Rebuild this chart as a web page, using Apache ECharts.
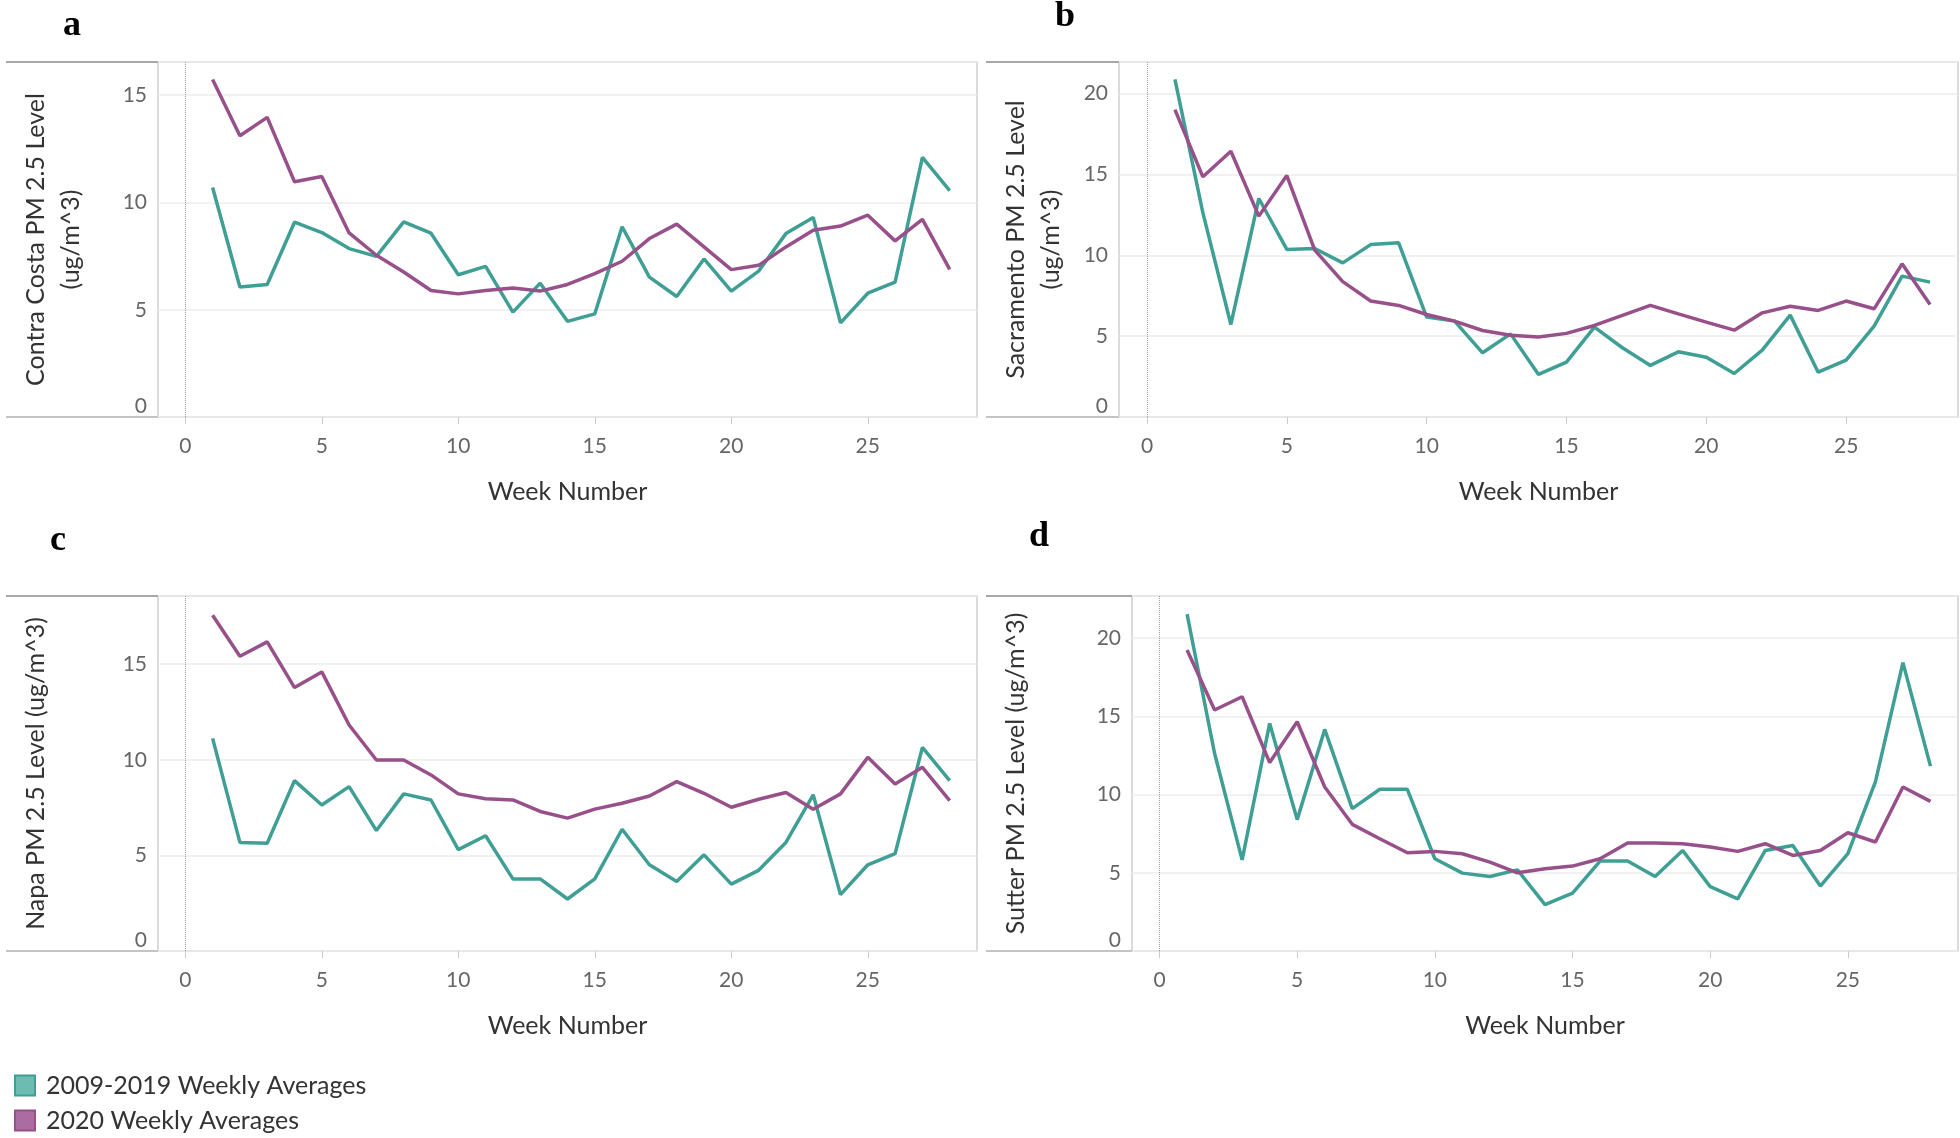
<!DOCTYPE html>
<html>
<head>
<meta charset="utf-8">
<script src="https://cdn.jsdelivr.net/npm/echarts@6/dist/echarts.min.js"></script>
<style>
html,body{margin:0;padding:0;background:#fff;}
#chart{width:1960px;height:1138px;}
</style>
</head>
<body>
<div id="chart"></div>
<script>
const weeks = [1,2,3,4,5,6,7,8,9,10,11,12,13,14,15,16,17,18,19,20,21,22,23,24,25,26,27,28];
const xTickValues = [0,5,10,15,20,25];
const seriesNames = ['2009-2019 Weekly Averages', '2020 Weekly Averages'];

const contraCostaAvg = [10.7,6.06,6.18,9.08,8.6,7.85,7.49,9.1,8.57,6.63,7.02,4.89,6.24,4.46,4.81,8.87,6.52,5.62,7.37,5.87,6.8,8.55,9.3,4.39,5.77,6.29,12.1,10.55];
const contraCosta2020 = [15.73,13.11,13.97,10.97,11.21,8.58,7.54,6.76,5.9,5.74,5.9,6.01,5.87,6.18,6.68,7.26,8.32,8.99,7.93,6.87,7.07,7.93,8.71,8.9,9.41,8.21,9.21,6.88];

const sacramentoAvg = [20.87,12.62,5.72,13.51,10.36,10.42,9.53,10.66,10.77,6.18,5.93,3.97,5.14,2.63,3.39,5.56,4.28,3.19,4.03,3.7,2.69,4.14,6.3,2.77,3.52,5.62,8.71,8.34];
const sacramento2020 = [19.01,14.85,16.43,12.42,14.93,10.32,8.37,7.17,6.9,6.34,5.93,5.35,5.06,4.94,5.17,5.66,6.28,6.9,6.38,5.87,5.37,6.44,6.85,6.59,7.17,6.69,9.47,6.96];

const napaAvg = [11.12,5.68,5.64,8.91,7.64,8.6,6.3,8.22,7.9,5.3,6.03,3.77,3.77,2.72,3.77,6.37,4.51,3.64,5.03,3.5,4.22,5.68,8.17,2.95,4.51,5.09,10.65,8.91];
const napa2020 = [17.56,15.42,16.17,13.78,14.6,11.82,9.99,9.99,9.21,8.22,7.96,7.9,7.3,6.95,7.42,7.73,8.11,8.86,8.25,7.52,7.94,8.29,7.42,8.22,10.13,8.74,9.61,7.87];

const sutterAvg = [21.54,12.63,5.83,14.55,8.4,14.17,9.1,10.34,10.34,5.9,4.98,4.76,5.19,2.97,3.7,5.75,5.75,4.76,6.43,4.12,3.33,6.43,6.75,4.15,6.22,10.81,18.44,11.82];
const sutter2020 = [19.25,15.41,16.26,12.05,14.66,10.49,8.1,7.18,6.28,6.37,6.22,5.68,5.0,5.26,5.43,5.9,6.9,6.9,6.86,6.65,6.37,6.86,6.11,6.43,7.56,6.97,10.49,9.57];

const panelLetters = ['a','b','c','d'];
const yTitles = ['Contra Costa PM 2.5 Level\n(ug/m^3)', 'Sacramento PM 2.5 Level\n(ug/m^3)', 'Napa PM 2.5 Level (ug/m^3)', 'Sutter PM 2.5 Level (ug/m^3)'];
const yMax = [16.55, 21.95, 18.57, 22.7];
const panelData = [[contraCostaAvg, contraCosta2020],[sacramentoAvg, sacramento2020],[napaAvg, napa2020],[sutterAvg, sutter2020]];

// layout (pixels)
const layout = [
  {left:158, top:62, width:819, height:355, outerLeft:6, nameGap:70, letter:[63,26]},
  {left:1119, top:62, width:839, height:355, outerLeft:986, nameGap:51, letter:[1055,17]},
  {left:158, top:596, width:819, height:355, outerLeft:6, nameGap:105, letter:[50,541]},
  {left:1132, top:596, width:826, height:355, outerLeft:986, nameGap:99, letter:[1029,537]}
];

const teal = '#3f9f94';
const purple = '#98508a';
const tealFill = '#6dbcb2';
const purpleFill = '#ab6da1';
const FONT = 'Lato, "Open Sans", sans-serif';

const grids = [], xAxes = [], yAxes = [], series = [], graphics = [];
layout.forEach((L, i) => {
  grids.push({left:L.left, top:L.top, width:L.width, height:L.height, show:true, borderColor:'#cfcfcf', borderWidth:1.5, backgroundColor:'transparent'});
  xAxes.push({
    type:'value', gridIndex:i, min:-1, max:29,
    name:'Week Number', nameLocation:'middle', nameGap:62,
    nameTextStyle:{fontFamily:FONT, fontSize:25, color:'#333'},
    axisLine:{show:false},
    axisTick:{show:true, length:7, lineStyle:{color:'#cccccc'}, customValues:xTickValues},
    axisLabel:{fontFamily:FONT, fontSize:21, color:'#666', margin:19, customValues:xTickValues},
    splitLine:{show:false}
  });
  yAxes.push({
    type:'value', gridIndex:i, min:0, max:yMax[i], interval:5,
    name:yTitles[i], nameLocation:'middle', nameGap:L.nameGap, nameRotate:90,
    nameTextStyle:{fontFamily:FONT, fontSize:25, color:'#333', lineHeight:35, align:'center'},
    axisLine:{show:false}, axisTick:{show:false},
    axisLabel:{fontFamily:FONT, fontSize:21, color:'#666', margin:11, showMaxLabel:false, verticalAlignMinLabel:'bottom'},
    splitLine:{show:true, lineStyle:{color:'#ececec', width:1.5}}
  });
  const d = panelData[i];
  series.push({
    name:seriesNames[0], type:'line', xAxisIndex:i, yAxisIndex:i,
    data:weeks.map((w,j)=>[w, d[0][j]]), showSymbol:false, symbol:'rect',
    lineStyle:{color:teal, width:3.5}, itemStyle:{color:tealFill, borderColor:teal, borderWidth:1.5},
    emphasis:{disabled:true}, z:3,
    markLine:{silent:true, symbol:'none', label:{show:false}, animation:false,
      lineStyle:{type:'dotted', color:'#9a9a9a', width:1}, data:[{xAxis:0}]}
  });
  series.push({
    name:seriesNames[1], type:'line', xAxisIndex:i, yAxisIndex:i,
    data:weeks.map((w,j)=>[w, d[1][j]]), showSymbol:false, symbol:'rect',
    lineStyle:{color:purple, width:3.5}, itemStyle:{color:purpleFill, borderColor:purple, borderWidth:1.5},
    emphasis:{disabled:true}, z:4
  });
  graphics.push({type:'line', shape:{x1:L.outerLeft, y1:L.top, x2:L.left, y2:L.top}, style:{stroke:'#a8a8a8', lineWidth:2}, silent:true});
  graphics.push({type:'line', shape:{x1:L.outerLeft, y1:L.top+L.height, x2:L.left, y2:L.top+L.height}, style:{stroke:'#c4c4c4', lineWidth:2}, silent:true});
  graphics.push({type:'text', x:L.letter[0], y:L.letter[1], style:{text:panelLetters[i], font:'bold 36px "Liberation Serif", "Times New Roman", serif', fill:'#000', verticalAlign:'middle', align:'left'}, silent:true});
});

const chart = echarts.init(document.getElementById('chart'), null, {renderer:'canvas'});
chart.setOption({
  animation:false,
  backgroundColor:'#fff',
  grid:grids, xAxis:xAxes, yAxis:yAxes, series:series,
  legend:{
    data:seriesNames, orient:'vertical', left:14, top:1073, padding:0,
    icon:'rect', itemWidth:20, itemHeight:20, itemGap:10,
    textStyle:{fontFamily:FONT, fontSize:25, color:'#333', lineHeight:20, padding:[0,0,0,6]},
    selectedMode:false
  },
  graphic:graphics
});
</script>
</body>
</html>
